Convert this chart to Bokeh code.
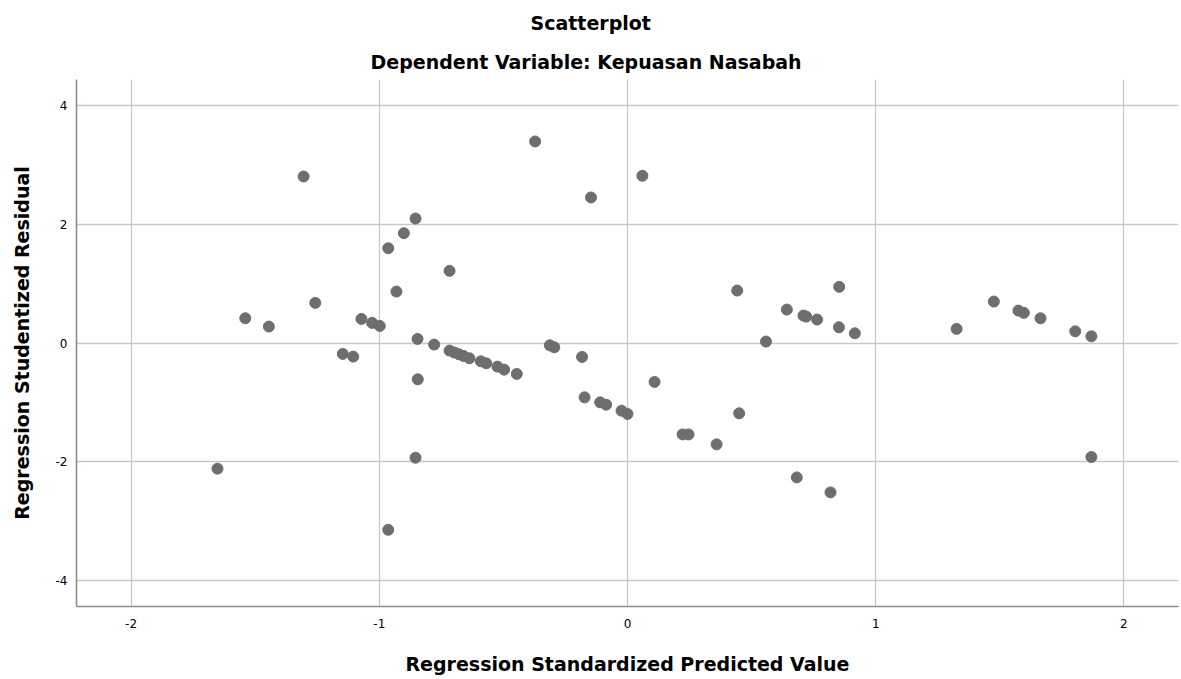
from bokeh.plotting import figure
from bokeh.models import Title, FixedTicker, Range1d
from bokeh.embed import file_html
from bokeh.resources import INLINE

title_text = "Scatterplot"
subtitle_text = "Dependent Variable: Kepuasan Nasabah"
x_label = "Regression Standardized Predicted Value"
y_label = "Regression Studentized Residual"
x_ticks = [-2, -1, 0, 1, 2]
y_ticks = [-4, -2, 0, 2, 4]

pred = [-1.652, -1.540, -1.445, -1.305, -1.258, -1.147, -1.105, -1.072, -1.029, -0.998,
        -0.964, -0.964, -0.931, -0.901, -0.854, -0.854, -0.846, -0.845, -0.779, -0.717,
        -0.717, -0.698, -0.679, -0.660, -0.637, -0.591, -0.569, -0.524, -0.497, -0.446,
        -0.372, -0.313, -0.295, -0.183, -0.173, -0.147, -0.110, -0.086, -0.024, 0.000,
        0.060, 0.109, 0.222, 0.246, 0.359, 0.442, 0.450, 0.558, 0.642, 0.682,
        0.709, 0.720, 0.764, 0.818, 0.853, 0.852, 0.916, 1.326, 1.476, 1.575,
        1.597, 1.664, 1.804, 1.869, 1.869]
resid = [-2.118, 0.417, 0.277, 2.806, 0.676, -0.184, -0.229, 0.406, 0.339, 0.288,
         1.597, -3.147, 0.867, 1.850, 2.098, -1.933, 0.069, -0.612, -0.027, 1.216,
         -0.128, -0.160, -0.190, -0.220, -0.258, -0.308, -0.342, -0.398, -0.449, -0.521,
         3.396, -0.039, -0.072, -0.235, -0.916, 2.452, -1.000, -1.039, -1.140, -1.196,
         2.818, -0.656, -1.540, -1.540, -1.708, 0.884, -1.185, 0.024, 0.563, -2.265,
         0.462, 0.445, 0.395, -2.517, 0.946, 0.265, 0.164, 0.238, 0.698, 0.546,
         0.508, 0.417, 0.197, 0.113, -1.921]

FONT = "DejaVu Sans"

p = figure(width=1180, height=678, output_backend="svg", toolbar_location=None,
           x_range=Range1d(-2.22, 2.22), y_range=Range1d(-4.44, 4.44),
           min_border_left=76, min_border_right=2, min_border_top=79, min_border_bottom=72,
           background_fill_color="white", border_fill_color="white")
p.title = None
p.add_layout(Title(text=subtitle_text, align="left", offset=294, text_font=FONT,
                   text_font_size="19px", text_font_style="bold", text_color="#000000",
                   standoff=13), "above")
p.add_layout(Title(text=title_text, align="left", offset=454, text_font=FONT,
                   text_font_size="19px", text_font_style="bold", text_color="#000000",
                   standoff=17), "above")

p.outline_line_color = None
p.xaxis.ticker = FixedTicker(ticks=x_ticks)
p.yaxis.ticker = FixedTicker(ticks=y_ticks)
p.xgrid.ticker = FixedTicker(ticks=x_ticks)
p.ygrid.ticker = FixedTicker(ticks=y_ticks)
p.grid.grid_line_color = "#c8c8c8"
p.grid.grid_line_width = 1.3
p.xaxis.major_label_overrides = {t: str(t) for t in x_ticks}
p.yaxis.major_label_overrides = {t: str(t) for t in y_ticks}

for ax in (p.xaxis, p.yaxis):
    ax.axis_line_color = "#8c8c8c"
    ax.axis_line_width = 1.6
    ax.major_tick_line_color = None
    ax.minor_tick_line_color = None
    ax.major_tick_out = 0
    ax.major_tick_in = 0
    ax.major_label_text_font = FONT
    ax.major_label_text_font_size = "12px"
    ax.major_label_text_color = "#000000"
    ax.axis_label_text_font = FONT
    ax.axis_label_text_font_size = "19px"
    ax.axis_label_text_font_style = "bold"
    ax.axis_label_text_color = "#000000"

p.xaxis.axis_label = x_label
p.yaxis.axis_label = y_label
p.xaxis.major_label_standoff = 12
p.xaxis.axis_label_standoff = 22
p.yaxis.major_label_standoff = 9
p.yaxis.axis_label_standoff = 20

p.scatter(pred, resid, size=11, fill_color="#6e6e6e", line_color="#6e6e6e")

open("out.html", "w").write(file_html(p, INLINE))
